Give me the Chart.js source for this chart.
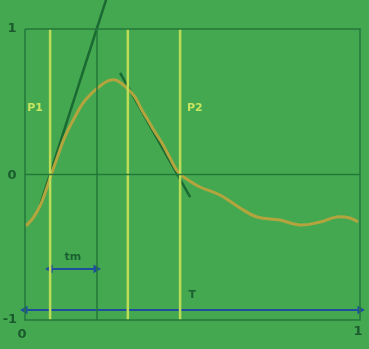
<!DOCTYPE html>
<html>
<head>
<meta charset="utf-8">
<script src="https://cdn.jsdelivr.net/npm/chart.js@4.4.1/dist/chart.umd.min.js"></script>
<style>
  body { margin: 0; background: #44a851; }
  canvas { display: block; }
</style>
</head>
<body>
<canvas id="grafico" width="369" height="349"></canvas>
<script>
// curva medida
const curvaX = [0.003, 0.024, 0.045, 0.063, 0.078, 0.099, 0.119, 0.149, 0.173, 0.2, 0.224, 0.248, 0.269, 0.29, 0.31, 0.328, 0.349, 0.367, 0.388, 0.409, 0.433, 0.457, 0.487, 0.522, 0.582, 0.642, 0.693, 0.761, 0.821, 0.881, 0.931, 0.97, 0.994];
const curvaY = [-0.354, -0.299, -0.216, -0.107, -0.003, 0.134, 0.258, 0.395, 0.491, 0.56, 0.608, 0.643, 0.65, 0.622, 0.581, 0.533, 0.443, 0.375, 0.292, 0.216, 0.113, 0.017, -0.038, -0.086, -0.141, -0.23, -0.292, -0.313, -0.347, -0.326, -0.292, -0.299, -0.326];

// tangentes
const tangente1X = [0.045, 0.242];
const tangente1Y = [-0.21, 1.2];
const tangente2X = [0.284, 0.493];
const tangente2Y = [0.698, -0.155];

// linhas verticais
const linhasClaras = [0.075, 0.307, 0.463];
const linhasEscuras = [0.215];

// setas
const setaTm = [0.075, 0.212];
const setaTmY = -0.649;
const setaT = [0.0, 1.0];
const setaTY = -0.931;

// textos
const textos = ['P1', 'P2', 'tm', 'T'];
const textosX = [0.03, 0.507, 0.143, 0.499];
const textosY = [0.457, 0.457, -0.567, -0.828];

// rotulos dos eixos
const rotulosEixo = ['1', '0', '-1', '0', '1'];
const rotulosX = [-0.039, -0.039, -0.045, -0.009, 0.994];
const rotulosY = [1.0, -0.01, -1.0, -1.1, -1.08];

function pontos(xs, ys) {
    return xs.map((x, i) => ({ x: x, y: ys[i] }));
}

function vertical(x, cor, largura) {
    return {
        data: [{ x: x, y: -1 }, { x: x, y: 1 }],
        borderColor: cor, borderWidth: largura, pointRadius: 0
    };
}

function seta(xs, y) {
    return {
        data: [{ x: xs[0], y: y }, { x: xs[1], y: y }],
        borderColor: '#1f4f9c', backgroundColor: '#1f4f9c', borderWidth: 2,
        pointStyle: 'triangle', pointRadius: 3, pointRotation: [270, 90]
    };
}

const datasets = [];

// moldura
datasets.push({
    data: [{ x: 0, y: 1 }, { x: 1, y: 1 }, { x: 1, y: -1 }, { x: 0, y: -1 }, { x: 0, y: 1 }],
    borderColor: '#23773a', borderWidth: 1.5, pointRadius: 0
});
// linha do zero
datasets.push({
    data: [{ x: 0, y: 0 }, { x: 1, y: 0 }],
    borderColor: '#23773a', borderWidth: 1.5, pointRadius: 0
});
linhasClaras.forEach(x => datasets.push(vertical(x, '#bcdc58', 2.5)));
linhasEscuras.forEach(x => datasets.push(vertical(x, '#23773a', 1.5)));
datasets.push(seta(setaTm, setaTmY));
datasets.push(seta(setaT, setaTY));
datasets.push({
    data: pontos(curvaX, curvaY),
    borderColor: '#b4a43e', borderWidth: 3, pointRadius: 0, tension: 0.4
});
datasets.push({
    data: pontos(tangente1X, tangente1Y),
    borderColor: '#1a6a32', borderWidth: 2.5, pointRadius: 0
});
datasets.push({
    data: pontos(tangente2X, tangente2Y),
    borderColor: '#1a6a32', borderWidth: 2.5, pointRadius: 0
});

const pluginTextos = {
    id: 'textos',
    afterDatasetsDraw(chart) {
        const ctx = chart.ctx;
        const sx = chart.scales.x;
        const sy = chart.scales.y;
        ctx.save();
        ctx.textAlign = 'center';
        ctx.textBaseline = 'middle';
        ctx.font = 'bold 11px "DejaVu Sans", sans-serif';
        textos.forEach((t, i) => {
            ctx.fillStyle = (t === 'P1' || t === 'P2') ? '#c9e45e' : '#1a6030';
            ctx.fillText(t, sx.getPixelForValue(textosX[i]), sy.getPixelForValue(textosY[i]));
        });
        ctx.font = 'bold 13px "DejaVu Sans", sans-serif';
        ctx.fillStyle = '#1a5a2c';
        rotulosEixo.forEach((t, i) => {
            ctx.fillText(t, sx.getPixelForValue(rotulosX[i]), sy.getPixelForValue(rotulosY[i]));
        });
        ctx.restore();
    }
};

new Chart(document.getElementById('grafico'), {
    type: 'line',
    data: { datasets: datasets },
    options: {
        responsive: false,
        animation: false,
        layout: { padding: 0, autoPadding: false },
        plugins: { legend: { display: false }, tooltip: { enabled: false } },
        scales: {
            x: { type: 'linear', min: -0.0746, max: 1.0269, display: false },
            y: { type: 'linear', min: -1.199, max: 1.199, display: false }
        }
    },
    plugins: [pluginTextos]
});
</script>
</body>
</html>
